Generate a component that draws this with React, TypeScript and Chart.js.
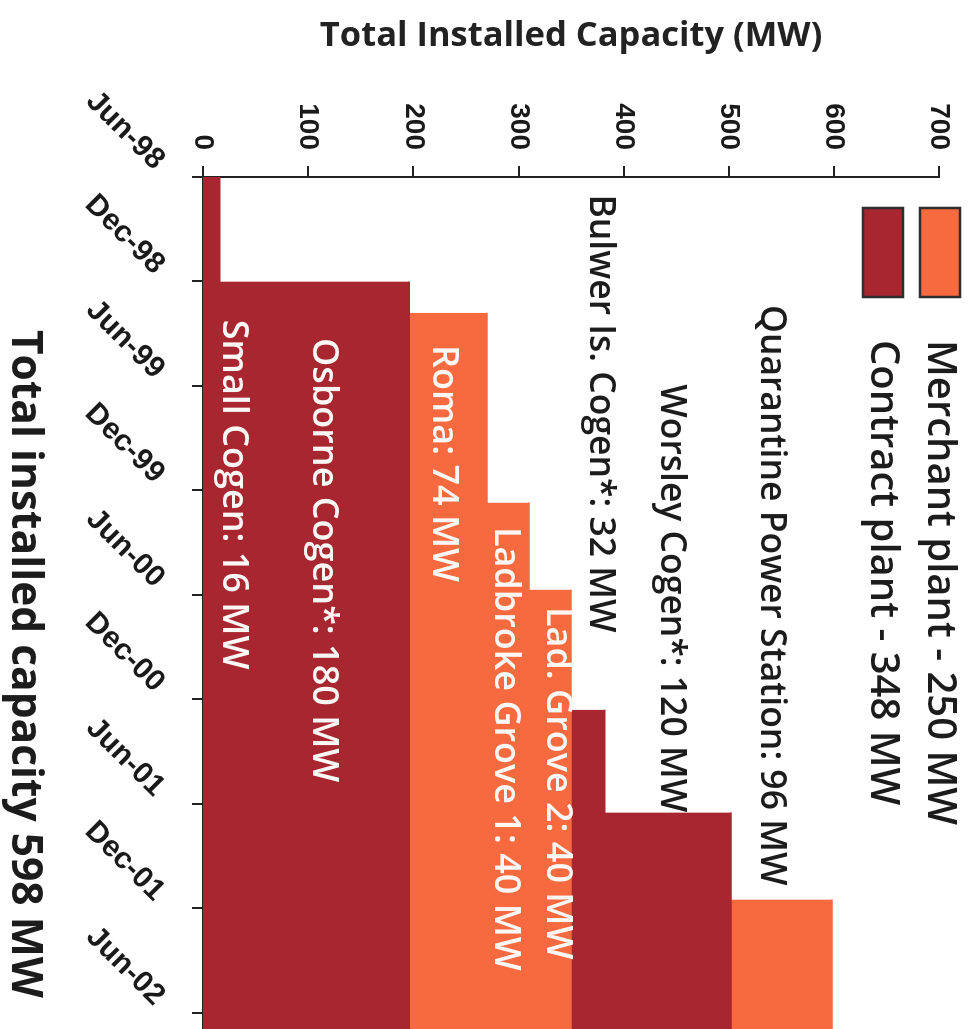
import React, { useEffect, useRef } from 'react';
import { Chart, registerables } from 'chart.js';

Chart.register(...registerables);

// Half-yearly date ticks along the time axis (months counted from Jun-98)
const dateTickLabels = ['Jun-98', 'Dec-98', 'Jun-99', 'Dec-99', 'Jun-00', 'Dec-00', 'Jun-01', 'Dec-01', 'Jun-02'];
const monthsPerTick = 6;
const lastMonth = 49;

// Capacity axis ticks (MW)
const capacityTicks = [0, 100, 200, 300, 400, 500, 600, 700];

// Plants in commissioning order
const plantNames = [
  'Small Cogen',
  'Osborne Cogen*',
  'Roma',
  'Ladbroke Grove 1',
  'Lad. Grove 2',
  'Bulwer Is. Cogen*',
  'Worsley Cogen*',
  'Quarantine Power Station',
];
const plantMW = [16, 180, 74, 40, 40, 32, 120, 96];
const plantStartMonth = [0, 6, 7.8, 18.7, 23.7, 30.6, 36.5, 41.5];
const plantKind = ['Contract', 'Contract', 'Merchant', 'Merchant', 'Merchant', 'Contract', 'Contract', 'Merchant'];

// Where each plant's caption sits (month, MW) and whether it sits on a coloured band
const labelMonth = [8.2, 9.25, 9.65, 20.1, 24.7, 1.0, 11.9, 7.35];
const labelMW = [28.6, 114, 228, 287, 337, 378, 445, 540];
const labelOnBand = [true, true, true, true, true, false, false, false];

const kindOrder = ['Merchant', 'Contract'];
const kindColor: Record<string, string> = {
  Merchant: '#F76A40',
  Contract: '#A8262F',
};

const W = 1030; // chart width before the quarter turn
const H = 972;

const TEXT_FONT = '"Open Sans", "Noto Sans", sans-serif';
const TICK_FONT = '"Liberation Sans", Arial, sans-serif';

export default function App() {
  const canvasRef = useRef<HTMLCanvasElement | null>(null);

  useEffect(() => {
    const canvas = canvasRef.current;
    if (!canvas) return;

    // cumulative stacking of the plant bands
    const bases: number[] = [];
    let running = 0;
    plantMW.forEach((mw) => {
      bases.push(running);
      running += mw;
    });
    const totalMW = running;
    const kindTotals: Record<string, number> = {};
    plantKind.forEach((k, i) => {
      kindTotals[k] = (kindTotals[k] || 0) + plantMW[i];
    });

    const datasets = plantNames.map((name, i) => ({
      label: name,
      data: [
        { x: plantStartMonth[i], y: bases[i] + plantMW[i] },
        { x: lastMonth, y: bases[i] + plantMW[i] },
      ],
      borderWidth: 1.5,
      borderColor: kindColor[plantKind[i]],
      pointRadius: 0,
      backgroundColor: kindColor[plantKind[i]],
      fill: { value: bases[i] },
    }));

    const annotations = {
      id: 'annotations',
      afterDatasetsDraw(chart: any) {
        const { ctx, scales } = chart;
        const x = scales.x;
        const y = scales.y;
        ctx.save();
        ctx.textAlign = 'left';
        ctx.textBaseline = 'middle';
        plantNames.forEach((name, i) => {
          ctx.font = labelOnBand[i] ? `600 36px ${TEXT_FONT}` : `600 35.5px ${TEXT_FONT}`;
          ctx.fillStyle = labelOnBand[i] ? '#fbf7f5' : '#1c1c1c';
          ctx.fillText(`${name}: ${plantMW[i]} MW`, x.getPixelForValue(labelMonth[i]), y.getPixelForValue(labelMW[i]));
        });
        ctx.restore();
      },
      afterDraw(chart: any) {
        const { ctx, chartArea } = chart;
        ctx.save();
        // legend
        kindOrder.forEach((k, i) => {
          const sx = chartArea.left + 31;
          const sy = 12 + i * 57;
          ctx.fillStyle = kindColor[k];
          ctx.fillRect(sx, sy, 89, 40);
          ctx.strokeStyle = '#2e2e2e';
          ctx.lineWidth = 2.5;
          ctx.strokeRect(sx, sy, 89, 40);
          ctx.font = `600 40px ${TEXT_FONT}`;
          ctx.fillStyle = '#1c1c1c';
          ctx.textAlign = 'left';
          ctx.textBaseline = 'middle';
          ctx.fillText(`${k} plant - ${kindTotals[k]} MW`, chartArea.left + 163, sy + 21);
        });
        // overall total under the time axis
        ctx.font = `700 42.5px ${TEXT_FONT}`;
        ctx.fillText(`Total installed capacity ${totalMW} MW`, chartArea.left + 153, 948);
        ctx.restore();
      },
    };

    const chart = new Chart(canvas, {
      type: 'line',
      data: { datasets },
      options: {
        responsive: false,
        animation: false,
        devicePixelRatio: 1,
        layout: { padding: { top: 32, left: 0, right: 0, bottom: 0 } },
        plugins: {
          legend: { display: false },
          tooltip: { enabled: false },
          filler: { propagate: false },
        },
        scales: {
          x: {
            type: 'linear',
            min: 0,
            max: lastMonth,
            afterBuildTicks: (s: any) => {
              s.ticks = dateTickLabels.map((_, i) => ({ value: i * monthsPerTick }));
            },
            afterFit: (s: any) => {
              s.height = 203;
              s.paddingLeft = 0;
              s.paddingRight = 0;
            },
            ticks: {
              autoSkip: false,
              minRotation: 45,
              maxRotation: 45,
              padding: 20,
              labelOffset: -12,
              color: '#1a1a1a',
              font: { family: TICK_FONT, size: 30, weight: 'bold' },
              callback: (v: any) => dateTickLabels[Math.round(Number(v) / monthsPerTick)],
            },
            grid: { drawOnChartArea: false, tickLength: 11, color: '#222', lineWidth: 2 },
            border: { color: '#222', width: 2 },
          },
          y: {
            type: 'linear',
            min: 0,
            max: 700,
            afterBuildTicks: (s: any) => {
              s.ticks = capacityTicks.map((v) => ({ value: v }));
            },
            afterFit: (s: any) => {
              s.width = 177;
            },
            ticks: {
              padding: 16,
              color: '#1a1a1a',
              font: { family: TICK_FONT, size: 28, weight: 'bold' },
            },
            grid: { drawOnChartArea: false, tickLength: 11, color: '#222', lineWidth: 2 },
            border: { color: '#222', width: 2 },
            title: {
              display: true,
              text: 'Total Installed Capacity (MW)',
              color: '#222',
              font: { family: TEXT_FONT, size: 34.5, weight: 'bold' },
              padding: { top: 15, bottom: 0 },
            },
          },
        },
      },
      plugins: [annotations],
    } as any);

    return () => chart.destroy();
  }, []);

  return (
    <div style={{ position: 'fixed', left: 0, top: 0, width: 972, height: 1029, overflow: 'hidden', background: '#fff' }}>
      <div
        style={{
          position: 'absolute',
          left: 0,
          top: 0,
          width: W,
          height: H,
          transformOrigin: '0 0',
          transform: `translate(${H}px, 0) rotate(90deg)`,
        }}
      >
        <canvas ref={canvasRef} width={W} height={H} style={{ display: 'block', width: W, height: H }} />
      </div>
    </div>
  );
}
